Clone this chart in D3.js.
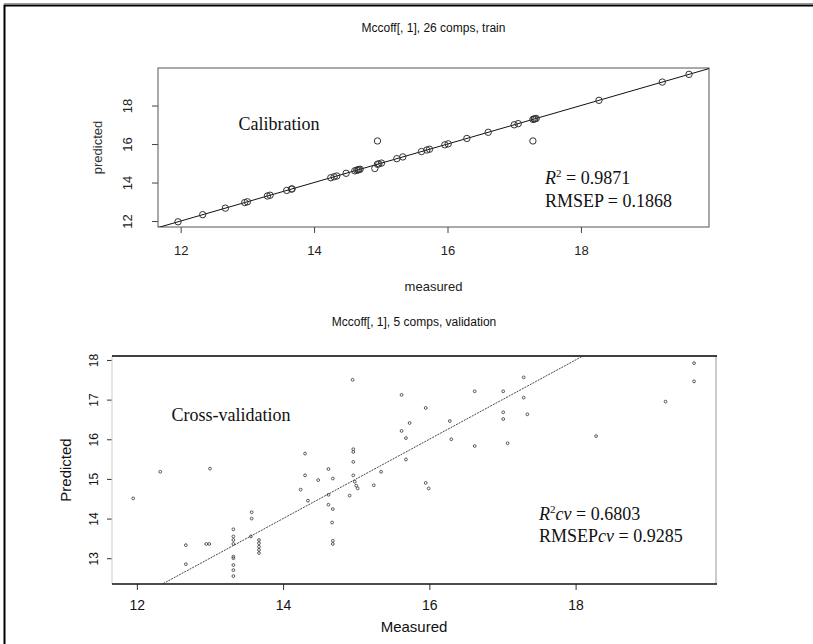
<!DOCTYPE html>
<html>
<head>
<meta charset="utf-8">
<script src="https://cdn.jsdelivr.net/npm/d3@7"></script>
<style>
  body { margin: 0; background: #fff; }
  svg { display: block; }
  .sans { font-family: "Liberation Sans", Arial, sans-serif; }
  .note { font-family: "Liberation Serif", "Times New Roman", serif; font-size: 18px; fill: #111; }
</style>
</head>
<body>
<svg id="chart" width="813" height="644"></svg>
<script>
// calibration (train) points
const calMeasured = [11.96, 12.33, 12.67, 12.96, 13.00, 13.30, 13.34, 13.59, 13.66, 13.67,
  14.25, 14.30, 14.34, 14.48, 14.61, 14.64, 14.66, 14.69, 14.67, 14.91, 14.95, 14.95,
  14.97, 15.01, 15.24, 15.33, 15.61, 15.69, 15.73, 15.96, 16.01, 16.29, 16.61, 17.00,
  17.06, 17.28, 17.30, 17.31, 17.33, 17.28, 18.27, 19.22, 19.62];
const calPredicted = [11.96, 12.33, 12.67, 12.96, 13.00, 13.30, 13.34, 13.59, 13.66, 13.67,
  14.25, 14.30, 14.34, 14.48, 14.61, 14.64, 14.66, 14.69, 14.67, 14.73, 16.16, 14.95,
  14.97, 15.01, 15.24, 15.33, 15.61, 15.69, 15.73, 15.96, 16.01, 16.29, 16.61, 17.00,
  17.06, 17.28, 17.30, 17.31, 17.33, 16.16, 18.27, 19.22, 19.62];

// cross-validation points
const cvMeasured = [11.95, 12.32, 12.67, 12.67, 13.00, 12.95, 12.99, 13.32, 13.32, 13.32,
  13.32, 13.32, 13.32, 13.32, 13.32, 13.32, 13.57, 13.57, 13.56, 13.67, 13.67, 13.67,
  13.67, 13.67, 14.24, 14.30, 14.30, 14.34, 14.48, 14.62, 14.62, 14.62, 14.68, 14.68,
  14.67, 14.68, 14.68, 14.91, 14.96, 14.96, 14.96, 14.96, 14.98, 15.00, 15.02, 14.95,
  15.24, 15.34, 15.62, 15.95, 15.73, 15.62, 15.68, 15.68, 16.28, 16.30, 16.62, 16.62,
  17.01, 17.01, 17.01, 17.07, 17.29, 17.29, 17.34, 18.28, 19.23, 19.62, 19.62, 15.95, 15.99];
const cvPredicted = [14.51, 15.18, 13.33, 12.85, 15.26, 13.36, 13.36, 13.73, 13.55, 13.46,
  13.36, 13.04, 13.00, 12.83, 12.70, 12.55, 14.16, 14.00, 13.55, 13.46, 13.38, 13.29,
  13.21, 13.13, 14.73, 15.64, 15.09, 14.45, 14.97, 15.25, 14.60, 14.35, 14.24, 15.01,
  13.90, 13.44, 13.36, 14.58, 15.75, 15.68, 15.43, 15.09, 14.93, 14.83, 14.76, 17.50,
  14.84, 15.18, 17.12, 16.79, 16.41, 16.21, 16.03, 15.49, 16.46, 16.00, 17.21, 15.83,
  17.21, 16.68, 16.51, 15.90, 17.56, 17.05, 16.63, 16.08, 16.95, 17.92, 17.46, 14.90, 14.76];

const xTicks = [12, 14, 16, 18];
const yTicksCal = [12, 14, 16, 18];
const yTicksCv = [13, 14, 15, 16, 17, 18];

const svg = d3.select("#chart");

// outer frame of the figure (top and left only)
svg.append("path")
  .attr("d", "M4.5,644 V5.5 H813")
  .attr("fill", "none")
  .attr("stroke", "#000")
  .attr("stroke-width", 2);
svg.append("line")
  .attr("x1", 4).attr("x2", 813).attr("y1", 3.5).attr("y2", 3.5)
  .attr("stroke", "#999").attr("stroke-width", 1);

// ---------- top plot: calibration ----------
let calBox = { left: 158, right: 709, top: 68, bottom: 227 };

let xCal = d3.scaleLinear().domain([11.66, 19.92]).range([calBox.left, calBox.right]);
let yCal = d3.scaleLinear().domain([11.69, 19.95]).range([calBox.bottom, calBox.top]);

let p1 = svg.append("g");

p1.append("defs").append("clipPath").attr("id", "clipCal")
  .append("rect")
  .attr("x", calBox.left).attr("y", calBox.top)
  .attr("width", calBox.right - calBox.left).attr("height", calBox.bottom - calBox.top);

// title
p1.append("text").attr("class", "sans")
  .attr("x", (calBox.left + calBox.right) / 2).attr("y", 32)
  .attr("text-anchor", "middle").attr("font-size", 12).attr("fill", "#111")
  .text("Mccoff[, 1], 26 comps, train");

// x axis
p1.append("g")
  .attr("class", "sans")
  .attr("transform", "translate(0," + calBox.bottom + ")")
  .call(d3.axisBottom(xCal).tickValues(xTicks).tickSize(6).tickPadding(13).tickFormat(d3.format("d")))
  .call(g => g.select(".domain").remove())
  .call(g => g.selectAll(".tick line").attr("stroke", "#444"))
  .call(g => g.selectAll(".tick text").attr("font-size", 13).attr("fill", "#222"));

// y axis with rotated labels
p1.append("g")
  .attr("class", "sans")
  .attr("transform", "translate(" + calBox.left + ",0)")
  .call(d3.axisLeft(yCal).tickValues(yTicksCal).tickSize(6).tickFormat(d3.format("d")))
  .call(g => g.select(".domain").remove())
  .call(g => g.selectAll(".tick line").attr("stroke", "#444"))
  .call(g => g.selectAll(".tick text")
    .attr("transform", "rotate(-90)")
    .attr("x", 0).attr("y", -26).attr("dy", 0)
    .attr("text-anchor", "middle")
    .attr("font-size", 13).attr("fill", "#222"));

// box
p1.append("rect")
  .attr("x", calBox.left).attr("y", calBox.top)
  .attr("width", calBox.right - calBox.left).attr("height", calBox.bottom - calBox.top)
  .attr("fill", "none").attr("stroke", "#555").attr("stroke-width", 1);

// axis labels
p1.append("text").attr("class", "sans")
  .attr("x", (calBox.left + calBox.right) / 2).attr("y", 291)
  .attr("text-anchor", "middle").attr("font-size", 13).attr("fill", "#222")
  .text("measured");
p1.append("text").attr("class", "sans")
  .attr("transform", "translate(102," + (calBox.top + calBox.bottom) / 2 + ") rotate(-90)")
  .attr("text-anchor", "middle").attr("font-size", 13).attr("fill", "#333")
  .text("predicted");

// y = x target line
p1.append("line")
  .attr("clip-path", "url(#clipCal)")
  .attr("x1", xCal(11.5)).attr("y1", yCal(11.5))
  .attr("x2", xCal(20.1)).attr("y2", yCal(20.1))
  .attr("stroke", "#111").attr("stroke-width", 1);

// points
p1.append("g")
  .selectAll("circle")
  .data(calMeasured)
  .enter()
  .append("circle")
  .attr("cx", d => xCal(d))
  .attr("cy", (d, i) => yCal(calPredicted[i]))
  .attr("r", 3.2)
  .attr("fill", "none")
  .attr("stroke", "#333")
  .attr("stroke-width", 1);

p1.append("text").attr("class", "note")
  .attr("x", 279).attr("y", 130).attr("text-anchor", "middle")
  .text("Calibration");

let r2 = p1.append("text").attr("class", "note").attr("x", 545).attr("y", 184);
r2.append("tspan").attr("font-style", "italic").text("R");
r2.append("tspan").attr("font-size", 11).attr("dy", -7).text("2");
r2.append("tspan").attr("dy", 7).text(" = 0.9871");
p1.append("text").attr("class", "note").attr("x", 545).attr("y", 207)
  .text("RMSEP = 0.1868");

// ---------- bottom plot: cross-validation ----------
let cvBox = { left: 112, right: 716, top: 356, bottom: 584 };

let xCv = d3.scaleLinear().domain([11.66, 19.92]).range([cvBox.left, cvBox.right]);
let yCv = d3.scaleLinear().domain([12.35, 18.1]).range([cvBox.bottom, cvBox.top]);

let p2 = svg.append("g");

p2.append("defs").append("clipPath").attr("id", "clipCv")
  .append("rect")
  .attr("x", cvBox.left).attr("y", cvBox.top)
  .attr("width", cvBox.right - cvBox.left).attr("height", cvBox.bottom - cvBox.top);

p2.append("text").attr("class", "sans")
  .attr("x", (cvBox.left + cvBox.right) / 2).attr("y", 326)
  .attr("text-anchor", "middle").attr("font-size", 12).attr("fill", "#111")
  .text("Mccoff[, 1], 5 comps, validation");

p2.append("g")
  .attr("class", "sans")
  .attr("transform", "translate(0," + cvBox.bottom + ")")
  .call(d3.axisBottom(xCv).tickValues(xTicks).tickSize(6).tickPadding(10).tickFormat(d3.format("d")))
  .call(g => g.select(".domain").remove())
  .call(g => g.selectAll(".tick line").attr("stroke", "#333"))
  .call(g => g.selectAll(".tick text").attr("font-size", 14).attr("fill", "#111"));

p2.append("g")
  .attr("class", "sans")
  .attr("transform", "translate(" + cvBox.left + ",0)")
  .call(d3.axisLeft(yCv).tickValues(yTicksCv).tickSize(5).tickFormat(d3.format("d")))
  .call(g => g.select(".domain").remove())
  .call(g => g.selectAll(".tick line").attr("stroke", "#333"))
  .call(g => g.selectAll(".tick text")
    .attr("transform", "rotate(-90)")
    .attr("x", 0).attr("y", -14).attr("dy", 0)
    .attr("text-anchor", "middle")
    .attr("font-size", 12).attr("fill", "#111"));

// frame: heavy top and bottom, faint sides
p2.append("line")
  .attr("x1", cvBox.left).attr("x2", cvBox.left).attr("y1", cvBox.top).attr("y2", cvBox.bottom)
  .attr("stroke", "#ccc").attr("stroke-width", 1);
p2.append("line")
  .attr("x1", cvBox.right).attr("x2", cvBox.right).attr("y1", cvBox.top).attr("y2", cvBox.bottom)
  .attr("stroke", "#999").attr("stroke-width", 1);
p2.append("line")
  .attr("x1", cvBox.left).attr("x2", cvBox.right + 1).attr("y1", cvBox.top).attr("y2", cvBox.top)
  .attr("stroke", "#000").attr("stroke-width", 1.6);
p2.append("line")
  .attr("x1", cvBox.left).attr("x2", cvBox.right + 1).attr("y1", cvBox.bottom).attr("y2", cvBox.bottom)
  .attr("stroke", "#111").attr("stroke-width", 1.4);

p2.append("text").attr("class", "sans")
  .attr("x", (cvBox.left + cvBox.right) / 2).attr("y", 632)
  .attr("text-anchor", "middle").attr("font-size", 15).attr("fill", "#111")
  .text("Measured");
p2.append("text").attr("class", "sans")
  .attr("transform", "translate(71," + (cvBox.top + cvBox.bottom) / 2 + ") rotate(-90)")
  .attr("text-anchor", "middle").attr("font-size", 15).attr("fill", "#111")
  .text("Predicted");

// dotted y = x line
p2.append("line")
  .attr("clip-path", "url(#clipCv)")
  .attr("x1", xCv(12.0)).attr("y1", yCv(12.0))
  .attr("x2", xCv(18.5)).attr("y2", yCv(18.5))
  .attr("stroke", "#333").attr("stroke-width", 0.9)
  .attr("stroke-dasharray", "2,1");

p2.append("g")
  .selectAll("circle")
  .data(cvMeasured)
  .enter()
  .append("circle")
  .attr("cx", d => xCv(d))
  .attr("cy", (d, i) => yCv(cvPredicted[i]))
  .attr("r", 1.4)
  .attr("fill", "none")
  .attr("stroke", "#333")
  .attr("stroke-width", 0.8);

p2.append("text").attr("class", "note")
  .attr("x", 231).attr("y", 421).attr("text-anchor", "middle")
  .text("Cross-validation");

let r2cv = p2.append("text").attr("class", "note").attr("x", 539).attr("y", 520);
r2cv.append("tspan").attr("font-style", "italic").text("R");
r2cv.append("tspan").attr("font-size", 11).attr("dy", -7).text("2");
r2cv.append("tspan").attr("dy", 7).attr("font-style", "italic").text("cv");
r2cv.append("tspan").text(" = 0.6803");
let rmcv = p2.append("text").attr("class", "note").attr("x", 539).attr("y", 542);
rmcv.append("tspan").text("RMSEP");
rmcv.append("tspan").attr("font-style", "italic").text("cv");
rmcv.append("tspan").text(" = 0.9285");
</script>
</body>
</html>
